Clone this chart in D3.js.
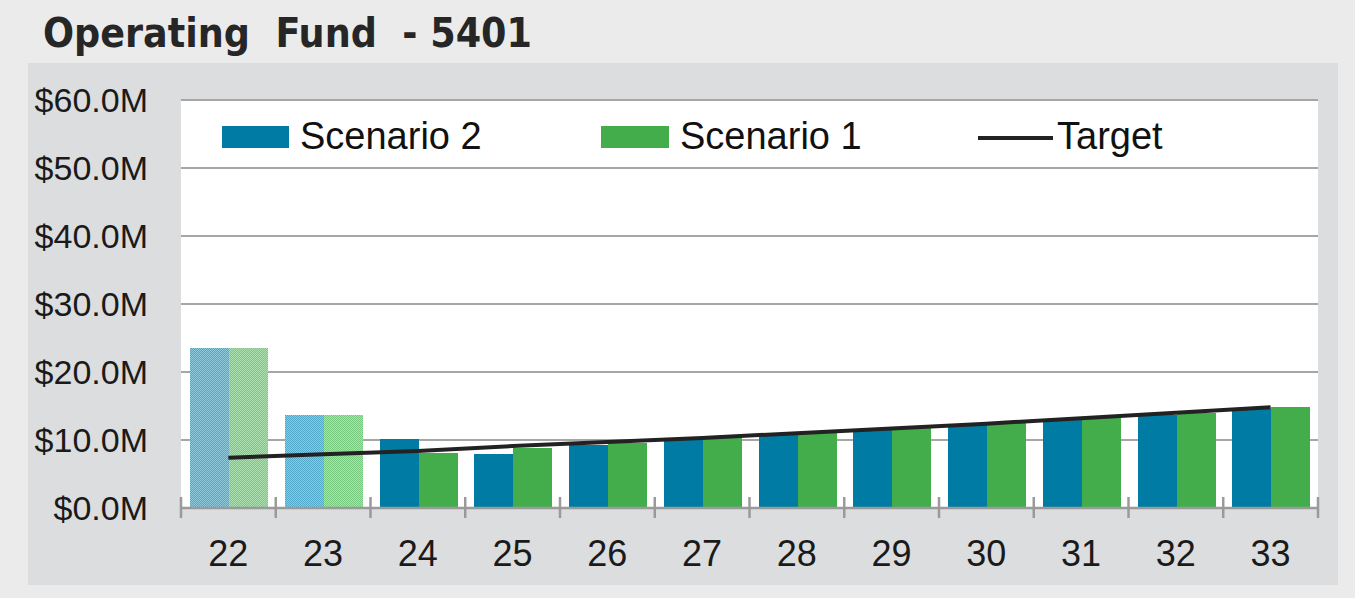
<!DOCTYPE html>
<html>
<head>
<meta charset="utf-8">
<script src="https://cdn.jsdelivr.net/npm/d3@7"></script>
<style>
  body { margin: 0; background: #ebebeb; }
  svg { display: block; }
</style>
</head>
<body>
<svg id="chart"></svg>
<script>
// data (values in $M)
const years = ["22", "23", "24", "25", "26", "27", "28", "29", "30", "31", "32", "33"];
const scenario2 = [23.5, 13.7, 10.1, 8.0, 9.3, 10.1, 10.9, 11.6, 12.2, 12.9, 13.7, 14.5];
const scenario1 = [23.5, 13.7, 8.1, 8.8, 9.6, 10.4, 11.1, 11.7, 12.45, 13.2, 14.0, 14.8];
const target = [7.4, 7.9, 8.4, 9.1, 9.7, 10.3, 11.0, 11.7, 12.4, 13.2, 14.0, 14.8];
const actualYears = ["22", "23"]; // drawn with the dotted fill
const yTicks = [0, 10, 20, 30, 40, 50, 60];

const W = 1355, H = 598;
const plot = { left: 181, right: 1318, top: 100, bottom: 508 };

const blue = "#007ba4", green = "#42ad4a";

const svg = d3.select("#chart").attr("width", W).attr("height", H);

// backgrounds
svg.append("rect").attr("width", W).attr("height", H).attr("fill", "#ebebeb");
svg.append("rect").attr("x", 28).attr("y", 63).attr("width", 1310).attr("height", 522).attr("fill", "#dcdddf");
svg.append("rect").attr("x", plot.left).attr("y", plot.top)
    .attr("width", plot.right - plot.left).attr("height", plot.bottom - plot.top).attr("fill", "#fff");

// dotted patterns for the first two years (close tones so the texture reads evenly)
const defs = svg.append("defs");
function dotPattern(id, color, light) {
    const p = defs.append("pattern").attr("id", id).attr("patternUnits", "userSpaceOnUse")
        .attr("width", 2).attr("height", 2);
    p.append("rect").attr("width", 2).attr("height", 2).attr("fill", light);
    p.append("rect").attr("x", 0).attr("y", 0).attr("width", 1).attr("height", 1).attr("fill", color);
    p.append("rect").attr("x", 1).attr("y", 1).attr("width", 1).attr("height", 1).attr("fill", color);
}
dotPattern("dotBlue", "#4fa6c6", "#92cade");
dotPattern("dotGreen", "#77c97f", "#ace0b1");

// title
svg.append("text")
    .attr("x", 43).attr("y", 47)
    .attr("textLength", 489).attr("lengthAdjust", "spacingAndGlyphs")
    .style("font-family", "'DejaVu Sans', sans-serif")
    .style("font-weight", "bold")
    .style("font-size", "40px")
    .attr("fill", "#262626")
    .attr("xml:space", "preserve")
    .text("Operating  Fund  - 5401");

// scales
const x = d3.scaleBand().domain(years).range([plot.left, plot.right]).padding(0);
const xs = d3.scaleBand().domain(["s2", "s1"]).range([0, x.bandwidth()]).paddingInner(0).paddingOuter(0.22);
const y = d3.scaleLinear().domain([0, 60]).range([plot.bottom, plot.top]);

// gridlines
svg.append("g").selectAll("line").data(yTicks.filter(d => d > 0)).join("line")
    .attr("x1", plot.left).attr("x2", plot.right)
    .attr("y1", d => y(d)).attr("y2", d => y(d))
    .attr("stroke", "#a6a6a6").attr("stroke-width", 2);

// y labels
svg.append("g").selectAll("text").data(yTicks).join("text")
    .attr("x", 148).attr("y", d => y(d)).attr("dy", "0.35em")
    .attr("text-anchor", "end")
    .style("font-family", "'Liberation Sans', Arial, sans-serif")
    .style("font-size", "34px")
    .attr("fill", "#1a1a1a")
    .text(d => "$" + d3.format(".1f")(d) + "M");

// bars (rounded to whole pixels so the dot pattern stays even)
const rows = years.map((yr, i) => ({ yr, s2: scenario2[i], s1: scenario1[i], t: target[i] }));
const groups = svg.append("g").selectAll("g").data(rows).join("g")
    .attr("transform", d => `translate(${Math.round(x(d.yr))},0)`);

const bw = Math.round(xs.bandwidth());
groups.append("rect")
    .attr("x", Math.round(xs("s2"))).attr("width", bw)
    .attr("y", d => Math.round(y(d.s2))).attr("height", d => y(0) - Math.round(y(d.s2)))
    .attr("fill", d => actualYears.includes(d.yr) ? "url(#dotBlue)" : blue);

groups.append("rect")
    .attr("x", Math.round(xs("s2")) + bw).attr("width", bw)
    .attr("y", d => Math.round(y(d.s1))).attr("height", d => y(0) - Math.round(y(d.s1)))
    .attr("fill", d => actualYears.includes(d.yr) ? "url(#dotGreen)" : green);

// x axis
const xAxis = svg.append("g");
xAxis.append("line").attr("x1", plot.left).attr("x2", plot.right)
    .attr("y1", y(0)).attr("y2", y(0)).attr("stroke", "#9a9a9a").attr("stroke-width", 2.5);
const boundaries = years.map(d => x(d)).concat([plot.right]);
xAxis.selectAll(".tick").data(boundaries).join("line")
    .attr("class", "tick")
    .attr("x1", d => d).attr("x2", d => d)
    .attr("y1", y(0) - 11).attr("y2", y(0) + 10)
    .attr("stroke", "#9a9a9a").attr("stroke-width", 2.5);
xAxis.selectAll("text").data(years).join("text")
    .attr("x", d => x(d) + x.bandwidth() / 2).attr("y", 566)
    .attr("text-anchor", "middle")
    .style("font-family", "'Liberation Sans', Arial, sans-serif")
    .style("font-size", "36px")
    .attr("fill", "#1a1a1a")
    .text(d => d);

// target line
const line = d3.line().x(d => x(d.yr) + x.bandwidth() / 2).y(d => y(d.t));
svg.append("path").datum(rows)
    .attr("d", line)
    .attr("fill", "none")
    .attr("stroke", "#222")
    .attr("stroke-width", 4);

// legend
const legendFont = "'Liberation Sans', Arial, sans-serif";
svg.append("rect").attr("x", 222).attr("y", 126).attr("width", 67).attr("height", 22).attr("fill", blue);
svg.append("text").attr("x", 300).attr("y", 149).style("font-family", legendFont)
    .style("font-size", "38px").attr("fill", "#111").text("Scenario 2");
svg.append("rect").attr("x", 601).attr("y", 126).attr("width", 68).attr("height", 22).attr("fill", green);
svg.append("text").attr("x", 680).attr("y", 149).style("font-family", legendFont)
    .style("font-size", "38px").attr("fill", "#111").text("Scenario 1");
svg.append("line").attr("x1", 978).attr("x2", 1053).attr("y1", 138).attr("y2", 138)
    .attr("stroke", "#222").attr("stroke-width", 4);
svg.append("text").attr("x", 1057).attr("y", 149).style("font-family", legendFont)
    .style("font-size", "38px").attr("fill", "#111").text("Target");
</script>
</body>
</html>
